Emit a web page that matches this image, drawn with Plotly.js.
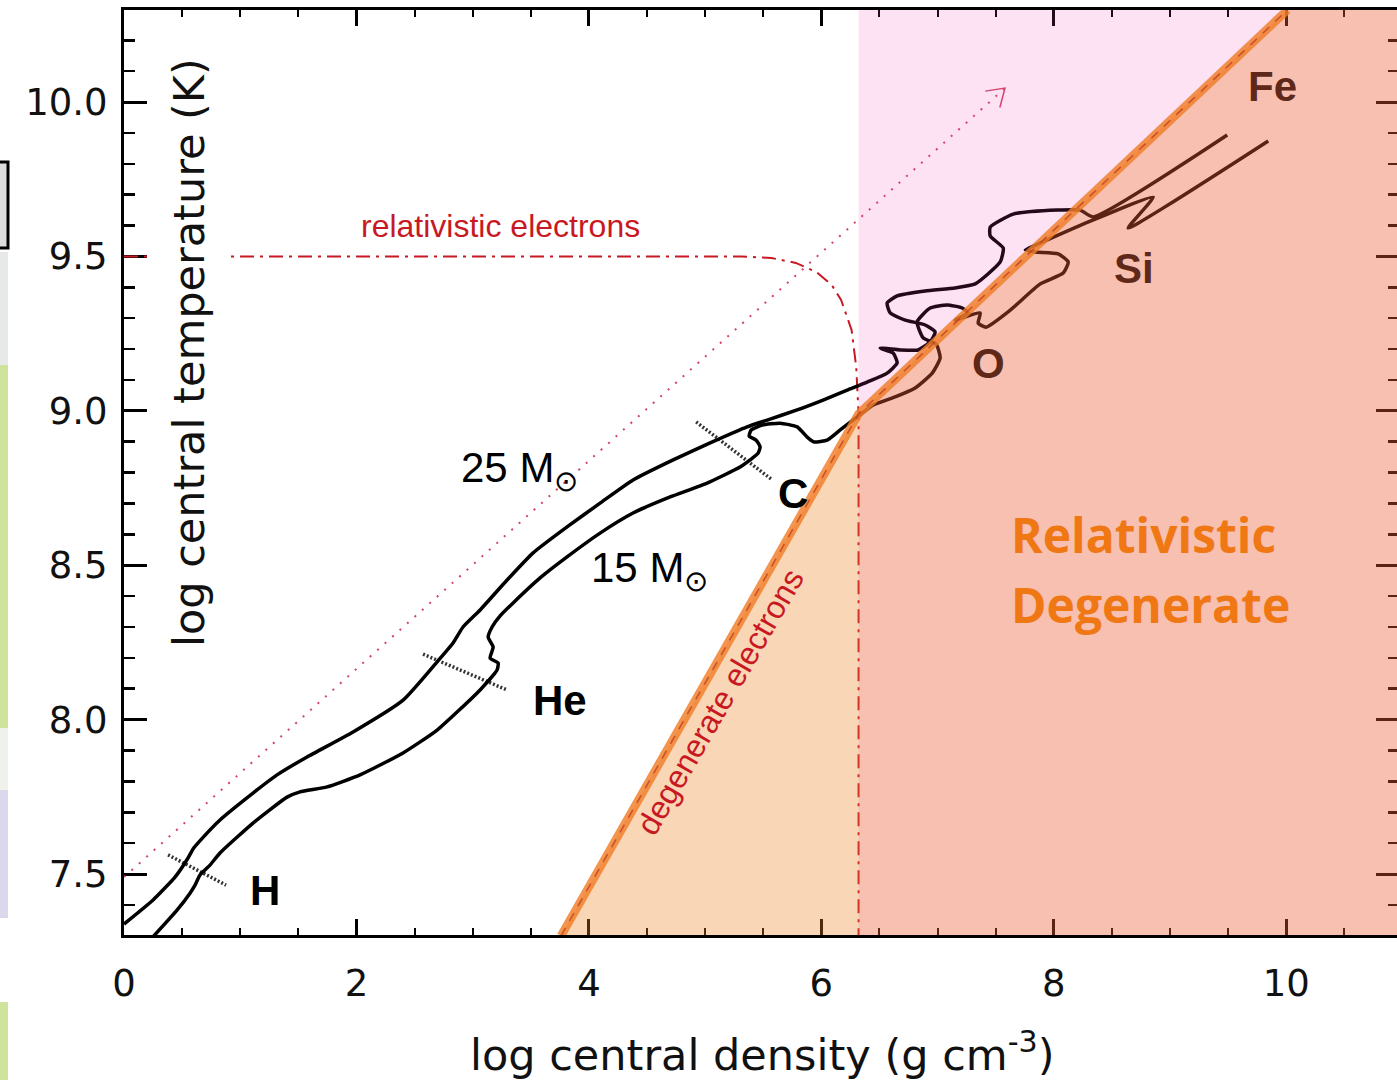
<!DOCTYPE html>
<html>
<head>
<meta charset="utf-8">
<script src="https://cdn.plot.ly/plotly-3.0.1.min.js"></script>
<style>
  html, body { margin: 0; padding: 0; overflow: hidden; background: #fff; }
  #chart { width: 1402px; height: 1080px; }
</style>
</head>
<body>
<div id="chart"></div>
<script>
// ---- Evolution of central density / temperature for massive stars ----

// 25 solar-mass track (log rho_c, log T_c)
const track25Rho = [0.000, 0.250, 0.439, 0.551, 0.594, 0.645, 0.826, 1.110, 1.317, 1.575, 1.971, 2.401, 2.694, 2.831, 2.917,
  3.064, 3.296, 3.520, 3.812, 4.096, 4.380, 4.725, 5.043, 5.361, 5.534, 5.792, 6.015, 6.222, 6.394, 6.566, 6.652, 6.618,
  6.506, 6.678, 6.833, 6.936, 6.979, 6.893, 6.721, 6.592, 6.566, 6.652, 6.893, 7.151, 7.324, 7.539, 7.565, 7.453, 7.453,
  7.651, 8.029, 8.227, 8.339, 9.492];
const track25T = [7.338, 7.416, 7.490, 7.552, 7.581, 7.604, 7.675, 7.762, 7.821, 7.879, 7.960, 8.063, 8.187, 8.248, 8.300,
  8.355, 8.452, 8.540, 8.624, 8.701, 8.776, 8.841, 8.896, 8.948, 8.970, 9.003, 9.035, 9.067, 9.093, 9.122, 9.155, 9.187,
  9.203, 9.197, 9.197, 9.223, 9.255, 9.278, 9.294, 9.317, 9.349, 9.372, 9.388, 9.398, 9.411, 9.482, 9.527, 9.566, 9.595,
  9.637, 9.650, 9.650, 9.628, 9.893];

// 15 solar-mass track
const track15Rho = [0.224, 0.456, 0.568, 0.611, 0.654, 0.740, 0.826, 1.110, 1.403, 1.515, 1.747, 2.031, 2.401, 2.694, 3.064,
  3.210, 3.219, 3.150, 3.176, 3.133, 3.167, 3.236, 3.348, 3.580, 3.812, 4.096, 4.380, 4.699, 5.017, 5.301, 5.387, 5.456,
  5.473, 5.439, 5.379, 5.396, 5.491, 5.645, 5.792, 5.878, 5.938, 6.050, 6.162, 6.308, 6.446, 6.635, 6.807, 6.954, 7.022,
  6.988, 6.876, 6.824, 6.936, 7.083, 7.212, 7.263, 7.151, 7.367, 7.349, 7.418, 7.625, 7.883, 8.081, 8.124, 8.038, 7.840,
  7.754, 7.883, 8.339, 8.855, 8.640, 9.845];
const track15T = [7.286, 7.383, 7.438, 7.464, 7.497, 7.529, 7.568, 7.665, 7.749, 7.766, 7.782, 7.821, 7.892, 7.966, 8.096,
  8.161, 8.183, 8.199, 8.235, 8.267, 8.300, 8.336, 8.378, 8.459, 8.527, 8.604, 8.669, 8.721, 8.766, 8.818, 8.841, 8.863,
  8.883, 8.905, 8.918, 8.938, 8.954, 8.960, 8.948, 8.915, 8.899, 8.905, 8.938, 8.980, 9.019, 9.045, 9.074, 9.122, 9.171,
  9.216, 9.236, 9.288, 9.333, 9.343, 9.333, 9.317, 9.294, 9.317, 9.284, 9.271, 9.326, 9.411, 9.446, 9.482, 9.508, 9.514,
  9.521, 9.543, 9.618, 9.692, 9.592, 9.874];

// Relativistic-electron boundary (kT ~ m_e c^2, p_F ~ m_e c)
const relRho = [0.00, 5.31, 5.57, 5.78, 5.96, 6.09, 6.17, 6.26, 6.30, 6.32, 6.32];
const relT   = [9.50, 9.50, 9.495, 9.479, 9.449, 9.407, 9.359, 9.262, 9.142, 8.993, 7.25];

// Degenerate-electron boundary (non-relativistic, then relativistic)
const degRho = [3.76, 6.32, 10.01];
const degT   = [7.30, 8.99, 10.298];

// Radiation-pressure guide (T ~ rho^(1/3))
const radRho = [0.00, 7.58];
const radT   = [7.49, 10.045];

// Core ignition markers (H, He, C)
const ignRho = [0.379, 0.878, null, 2.573, 3.296, null, 4.923, 5.568];
const ignT   = [7.562, 7.464, null, 8.212, 8.096, null, 8.964, 8.779];

// Burning-stage labels
const stageNames = ['H', 'He', 'C', 'O', 'Si', 'Fe'];
const stageRho   = [1.213, 3.752, 5.757, 7.435, 8.692, 9.880];
const stageT     = [7.448, 8.063, 8.731, 9.152, 9.462, 10.049];

// Mass labels
const massNames = ['25 M<sub>⊙</sub>', '15 M<sub>⊙</sub>'];
const massRho   = [2.880, 4.005];
const massT     = [8.808, 8.484];

// Axes
const X_RANGE = [0, 10.97];
const Y_RANGE = [7.3025, 10.298];

// ---------------------------------------------------------------------
const RED = 'rgb(200,25,35)';
const BROWN = 'rgb(95,40,25)';
const GUIDE = 'rgb(210,70,100)';
const base = { mode: 'lines', hoverinfo: 'skip', showlegend: false };

const PLOT_W = 1275, PLOT_H = 925;
const KX = PLOT_W / (X_RANGE[1] - X_RANGE[0]);   // px per unit of log rho
const KY = PLOT_H / (Y_RANGE[1] - Y_RANGE[0]);   // px per unit of log T

// open chevron at the end of the radiation-pressure guide
function chevron(x0, y0, x1, y1, len, spread) {
  const dir = Math.atan2((y1 - y0) * KY, (x1 - x0) * KX) + Math.PI;
  const a = dir - spread, b = dir + spread;
  return {
    x: [x1 + len * Math.cos(a) / KX, x1, x1 + len * Math.cos(b) / KX],
    y: [y1 + len * Math.sin(a) / KY, y1, y1 + len * Math.sin(b) / KY]
  };
}
const head = chevron(radRho[0], radT[0], radRho[1], radT[1], 20, 0.58);

const kneeRho = degRho[1], kneeT = degT[1];

const traces = [
  Object.assign({}, base, { x: relRho, y: relT, line: { color: RED, width: 2, dash: '14px,6px,3px,6px' } }),
  Object.assign({}, base, { x: radRho, y: radT, line: { color: GUIDE, width: 2, dash: '2px,8px' } }),
  Object.assign({}, base, { x: head.x, y: head.y, line: { color: GUIDE, width: 1.5 } }),
  Object.assign({}, base, { x: ignRho, y: ignT, connectgaps: false, line: { color: '#333', width: 3.5, dash: '2px,2px' } }),
  Object.assign({}, base, { x: track25Rho, y: track25T, line: { color: '#000', width: 3.5, shape: 'spline', smoothing: 0.5 } }),
  Object.assign({}, base, { x: track15Rho, y: track15T, line: { color: '#000', width: 3.5, shape: 'spline', smoothing: 0.5 } }),
  // degenerate, non-relativistic region
  Object.assign({}, base, { x: [degRho[0], kneeRho, kneeRho, degRho[0]], y: [degT[0], kneeT, Y_RANGE[0], Y_RANGE[0]],
    fill: 'toself', fillcolor: 'rgba(236,130,30,0.33)', line: { width: 0 } }),
  // relativistic + degenerate region
  Object.assign({}, base, { x: [kneeRho, degRho[2], X_RANGE[1], X_RANGE[1], kneeRho], y: [kneeT, degT[2], Y_RANGE[1], Y_RANGE[0], Y_RANGE[0]],
    fill: 'toself', fillcolor: 'rgba(234,91,52,0.385)', line: { width: 0 } }),
  // relativistic, non-degenerate region
  Object.assign({}, base, { x: [kneeRho, kneeRho, degRho[2]], y: [kneeT, Y_RANGE[1], degT[2]],
    fill: 'toself', fillcolor: 'rgba(235,60,170,0.15)', line: { width: 0 } }),
  Object.assign({}, base, { x: degRho, y: degT, line: { color: 'rgba(240,125,40,0.82)', width: 8.5 } }),
  Object.assign({}, base, { x: degRho, y: degT, line: { color: 'rgba(185,60,25,0.75)', width: 1.5, dash: '9px,8px' } })
];

const PX = px => (px - 124) / PLOT_W;
const PY = py => (935 - py) / PLOT_H;

const annotations = [];
stageNames.forEach((s, i) => annotations.push({
  x: stageRho[i], y: stageT[i], xref: 'x', yref: 'y', text: '<b>' + s + '</b>', showarrow: false,
  font: { family: 'Liberation Sans', size: 42, color: i >= 3 ? BROWN : '#000' }
}));
massNames.forEach((s, i) => annotations.push({
  x: massRho[i], y: massT[i], xref: 'x', yref: 'y', text: s, showarrow: false, xanchor: 'left',
  font: { family: 'Liberation Sans', size: 42, color: '#000' }
}));
annotations.push(
  { x: 3.236, y: 9.598, xref: 'x', yref: 'y', text: 'relativistic electrons', showarrow: false,
    font: { family: 'Liberation Sans', size: 32, color: RED } },
  { x: 5.129, y: 8.057, xref: 'x', yref: 'y', text: 'degenerate electrons', showarrow: false, textangle: -60,
    font: { family: 'Liberation Sans', size: 32, color: RED } },
  { x: 7.615, y: 8.60, xref: 'x', yref: 'y', text: '<b>Relativistic</b>', showarrow: false, xanchor: 'left',
    font: { family: 'Open Sans', size: 48, color: 'rgb(240,120,20)' } },
  { x: 7.615, y: 8.372, xref: 'x', yref: 'y', text: '<b>Degenerate</b>', showarrow: false, xanchor: 'left',
    font: { family: 'Open Sans', size: 48, color: 'rgb(240,120,20)' } },
  // axis titles
  { x: PX(189), y: PY(353), xref: 'paper', yref: 'paper', xanchor: 'center', yanchor: 'middle',
    text: 'log central temperature (K)', textangle: -90,
    showarrow: false, bgcolor: '#fff', borderpad: 14,
    font: { family: 'DejaVu Sans', size: 43, color: '#111' } },
  { x: PX(762), y: PY(1052), xref: 'paper', yref: 'paper', xanchor: 'center', yanchor: 'middle',
    text: 'log central density (g cm<sup>-3</sup>)',
    showarrow: false, font: { family: 'DejaVu Sans', size: 43, color: '#111' } }
);

// slide remnants along the left edge
const shapes = [
  { type: 'rect', xref: 'paper', yref: 'paper', x0: PX(-4), x1: PX(8), y0: PY(248), y1: PY(162), fillcolor: '#dcdcdc', line: { color: '#000', width: 3 } },
  { type: 'rect', xref: 'paper', yref: 'paper', x0: PX(-4), x1: PX(8), y0: PY(365), y1: PY(252), fillcolor: '#e6e9e8', line: { width: 0 } },
  { type: 'rect', xref: 'paper', yref: 'paper', x0: PX(-4), x1: PX(8), y0: PY(728), y1: PY(365), fillcolor: '#cfe39c', line: { width: 0 } },
  { type: 'rect', xref: 'paper', yref: 'paper', x0: PX(-4), x1: PX(8), y0: PY(790), y1: PY(728), fillcolor: '#eef1ec', line: { width: 0 } },
  { type: 'rect', xref: 'paper', yref: 'paper', x0: PX(-4), x1: PX(8), y0: PY(918), y1: PY(790), fillcolor: '#dcd8ec', line: { width: 0 } },
  { type: 'rect', xref: 'paper', yref: 'paper', x0: PX(-4), x1: PX(8), y0: PY(1084), y1: PY(1002), fillcolor: '#cfe39c', line: { width: 0 } }
];

const axisCommon = {
  ticks: 'inside', tickcolor: '#000', showline: true, linecolor: '#000', linewidth: 3,
  mirror: 'ticks', showgrid: false, zeroline: false, layer: 'below traces',
  tickfont: { family: 'DejaVu Sans', size: 37, color: '#111' }
};

const layout = {
  width: 1402, height: 1080,
  margin: { l: 124, r: 3, t: 10, b: 145 },
  paper_bgcolor: '#fff', plot_bgcolor: '#fff',
  showlegend: false,
  xaxis: Object.assign({}, axisCommon, {
    range: X_RANGE, tickmode: 'linear', tick0: 0, dtick: 2, ticklen: 16, tickwidth: 3, ticklabelstandoff: 14,
    minor: { tickmode: 'linear', tick0: 0, dtick: 0.5, ticks: 'inside', ticklen: 7, tickwidth: 2, tickcolor: '#000', showgrid: false }
  }),
  yaxis: Object.assign({}, axisCommon, {
    range: Y_RANGE, tickmode: 'linear', tick0: 0, dtick: 0.5, tickformat: '.1f', ticklen: 23, tickwidth: 3, ticklabelstandoff: 6,
    minor: { tickmode: 'linear', tick0: 0, dtick: 0.1, ticks: 'inside', ticklen: 11, tickwidth: 2.5, tickcolor: '#000', showgrid: false }
  }),
  annotations: annotations,
  shapes: shapes
};

Plotly.newPlot('chart', traces, layout, { displayModeBar: false, staticPlot: true });
</script>
</body>
</html>
